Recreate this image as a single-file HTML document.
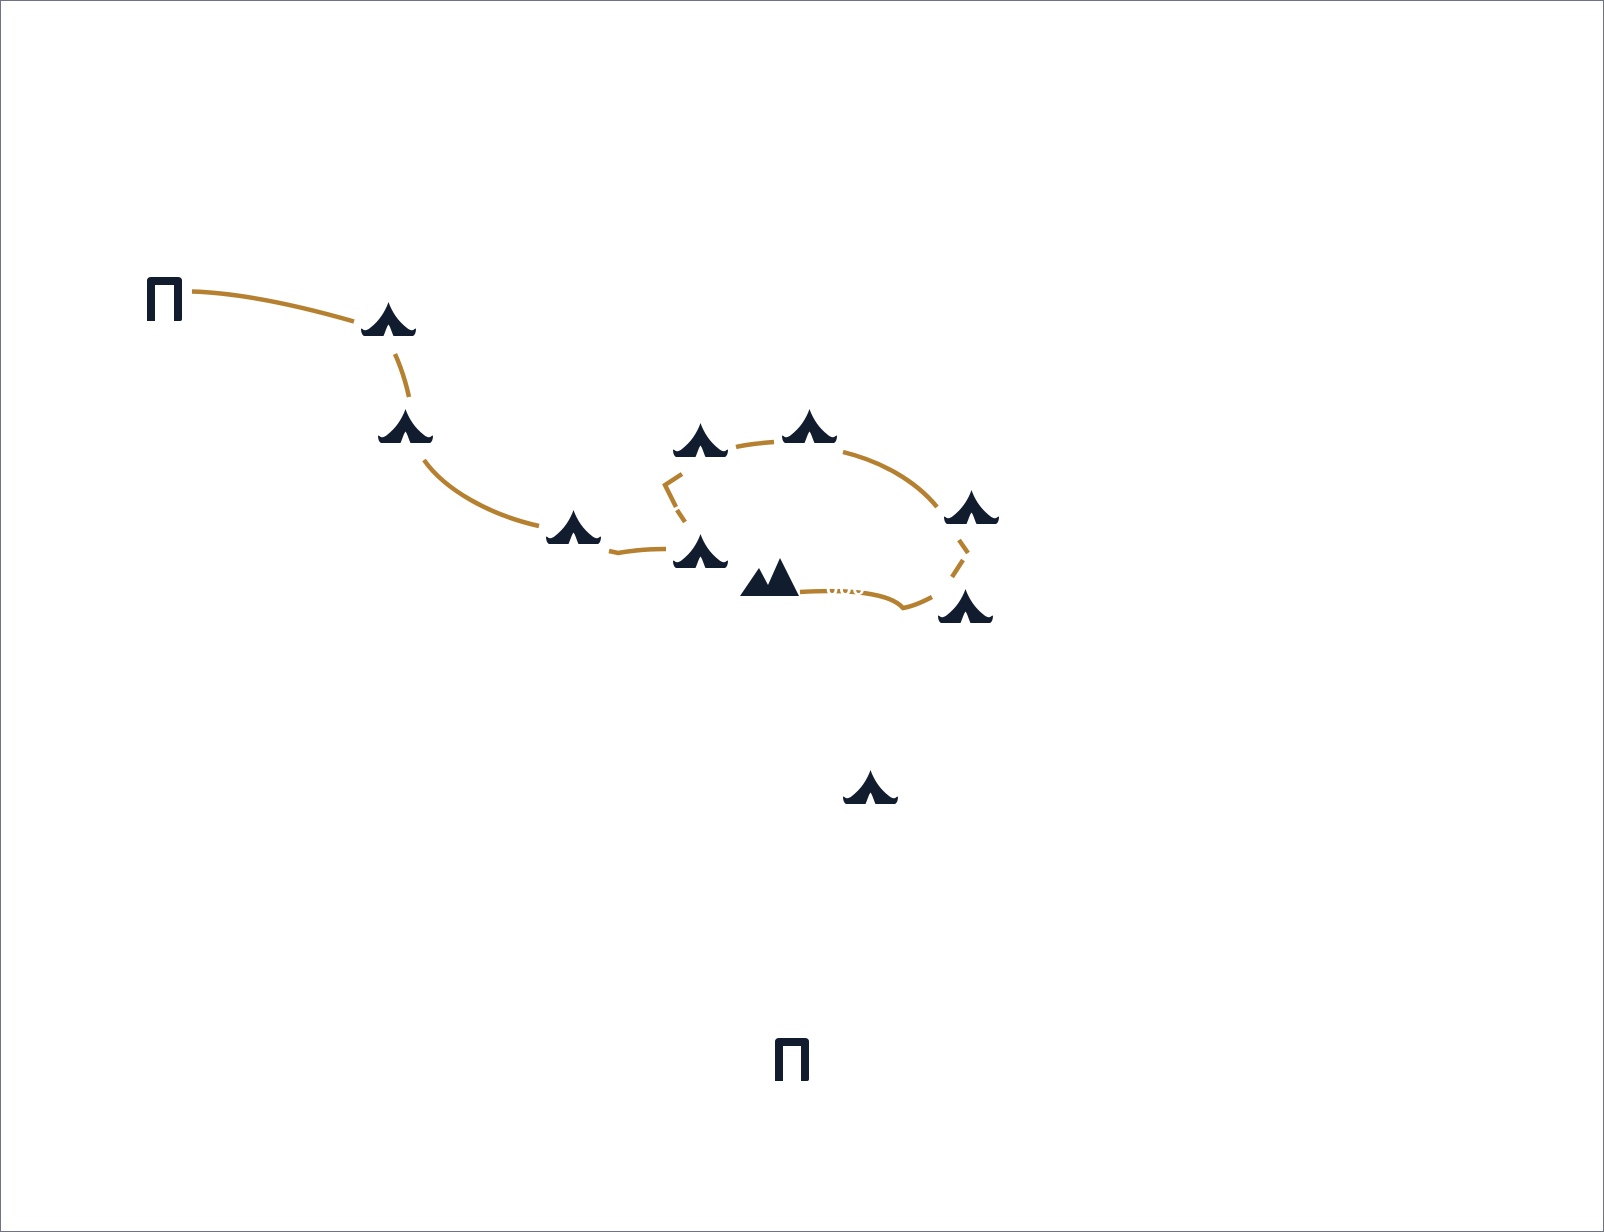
<!DOCTYPE html>
<html>
<head>
<meta charset="utf-8">
<style>
  html, body { margin: 0; padding: 0; background: #ffffff; }
  body { width: 1604px; height: 1232px; overflow: hidden; position: relative; font-family: "Liberation Sans", sans-serif; }
  .frame { position: absolute; left: 0; top: 0; width: 1602px; height: 1230px; border: 1px solid #6f7484; }
  svg { position: absolute; left: 0; top: 0; }
</style>
</head>
<body>
<div class="frame"></div>
<svg width="1604" height="1232" viewBox="0 0 1604 1232" xmlns="http://www.w3.org/2000/svg">
  <defs>
    <path id="tent" d="M27.5 0 C31 10 37 19 46 26 C49 28.5 52 29 53.5 27 L55 26.5 C55 30 54 33 52 34 L32.5 34 C31 31 29.5 25 27.5 22.5 C25.5 25 24 31 22.5 34 L3 34 C1 33 0 30 0 26.5 L1.5 27 C3 29 6 28.5 9 26 C18 19 24 10 27.5 0 Z" fill="#111c2e"/>
  </defs>

  <!-- connectors -->
  <g fill="none" stroke="#b5802f" stroke-width="4.5" stroke-linecap="butt" stroke-linejoin="miter">
    <path d="M192,291.5 C240,293 300,306 354,321.5"/>
    <path d="M395,354 Q404,374 409,397"/>
    <path d="M424,460 C445,490 490,515 539,526"/>
    <path d="M609,551 L618,553 Q640,549 666,549"/>
    <path d="M736,447 Q748,444 774,442"/>
    <path d="M843,452 C880,461 915,480 937,507"/>
    <path d="M682,474 L665,485 L676,507"/>
    <path d="M677,510 L685,522"/>
    <path d="M959,540 L968,553"/>
    <path d="M963,560 L952,577"/>
    <path d="M800,592 C850,589 890,593 903,608 Q915,606 932,597"/>
  </g>

  <!-- white labels (overlapping lines) -->
  <text x="826" y="595" font-family="Liberation Sans, sans-serif" font-size="20" font-weight="bold" letter-spacing="1" fill="#ffffff">ooo</text>

  <!-- tents -->
  <use href="#tent" x="361" y="302"/>
  <use href="#tent" x="378" y="409"/>
  <use href="#tent" x="546" y="510"/>
  <use href="#tent" x="673" y="423"/>
  <use href="#tent" x="782" y="409"/>
  <use href="#tent" x="944" y="490"/>
  <use href="#tent" x="673" y="534"/>
  <use href="#tent" x="938" y="589"/>
  <use href="#tent" x="843" y="770"/>

  <!-- mountain -->
  <polygon points="740,596 759,568 768,585 780,558 799,596" fill="#111c2e"/>

  <!-- gate shapes -->
  <path d="M147,321 L147,281 Q147,277 151,277 L178,277 Q182,277 182,281 L182,319 Q182,321 180,321 L174,321 L174,285 L155,285 L155,321 Z" fill="#111c2e"/>
  <path d="M775,1081 L775,1042 Q775,1038 779,1038 L805,1038 Q809,1038 809,1042 L809,1079 Q809,1081 807,1081 L801,1081 L801,1046 L783,1046 L783,1081 Z" fill="#111c2e"/>
</svg>
</body>
</html>
